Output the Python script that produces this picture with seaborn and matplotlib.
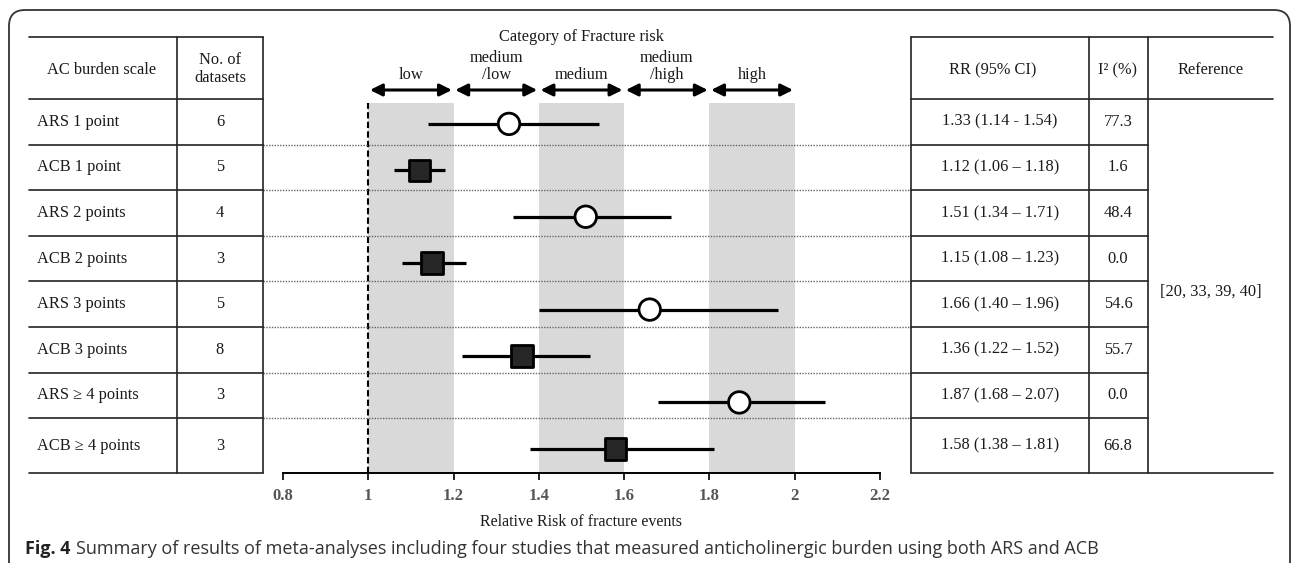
import numpy as np
import pandas as pd
import matplotlib
matplotlib.use('Agg')
import matplotlib.pyplot as plt
import matplotlib.transforms as mtransforms
from matplotlib.patches import FancyBboxPatch
import seaborn as sns

# ---------------- data ----------------
scale_labels = ['ARS 1 point', 'ACB 1 point', 'ARS 2 points', 'ACB 2 points',
                'ARS 3 points', 'ACB 3 points', 'ARS \u2265 4 points', 'ACB \u2265 4 points']
scale_type = ['ARS', 'ACB', 'ARS', 'ACB', 'ARS', 'ACB', 'ARS', 'ACB']
n_datasets = [6, 5, 4, 3, 5, 8, 3, 3]
rr = [1.33, 1.12, 1.51, 1.15, 1.66, 1.36, 1.87, 1.58]
ci_low = [1.14, 1.06, 1.34, 1.08, 1.40, 1.22, 1.68, 1.38]
ci_high = [1.54, 1.18, 1.71, 1.23, 1.96, 1.52, 2.07, 1.81]
i2 = [77.3, 1.6, 48.4, 0.0, 54.6, 55.7, 0.0, 66.8]
ci_dash = ['-', '\u2013', '\u2013', '\u2013', '\u2013', '\u2013', '\u2013', '\u2013']
reference = '[20, 33, 39, 40]'

risk_cats = ['low', 'medium\n/low', 'medium', 'medium\n/high', 'high']
risk_edges = [1.0, 1.2, 1.4, 1.6, 1.8, 2.0]
shaded = [(1.0, 1.2), (1.4, 1.6), (1.8, 2.0)]
xticks = [0.8, 1.0, 1.2, 1.4, 1.6, 1.8, 2.0, 2.2]
xticklabels = ['0.8', '1', '1.2', '1.4', '1.6', '1.8', '2', '2.2']

df = pd.DataFrame({'label': scale_labels, 'scale': scale_type, 'rr': rr,
                   'lo': ci_low, 'hi': ci_high, 'row': np.arange(len(rr))})

# ---------------- style ----------------
sns.set_theme(style='white')
plt.rcParams['font.family'] = ['Liberation Serif', 'DejaVu Serif']
TXT = '#1a1a1a'
LINE = '#222222'

W, H = 1292, 563
fig = plt.figure(figsize=(W / 100, H / 100), dpi=100)

# forest plot axes (pixel box: x 283..880, y 103..473)
ax = fig.add_axes([283 / W, (H - 473) / H, (880 - 283) / W, 370 / H])
ax.patch.set_alpha(0)

# overlay axes in pixel coordinates for table and frame
ov = fig.add_axes([0, 0, 1, 1], zorder=5)
ov.set_xlim(0, W)
ov.set_ylim(H, 0)
ov.axis('off')
ov.patch.set_alpha(0)

# ---------------- forest plot ----------------
for lo, hi in shaded:
    ax.axvspan(lo, hi, color='#d9d9d9', lw=0, zorder=0)
ax.axvline(1.0, color='black', lw=1.5, ls=(0, (3, 1.6)), zorder=1)

ax.hlines(df['row'], df['lo'], df['hi'], color='black', lw=2.3, zorder=2)
sns.scatterplot(data=df, x='rr', y='row', hue='scale', style='scale',
                palette={'ARS': 'white', 'ACB': '#262626'},
                markers={'ARS': 'o', 'ACB': 's'},
                s=240, edgecolor='black', linewidth=2,
                legend=False, zorder=3, ax=ax)

ax.set_xlim(0.8, 2.2)
ax.set_ylim(7.52, -0.45)
ax.set_xticks(xticks)
ax.set_xticklabels(xticklabels, fontweight='bold', color='#555555', fontsize=12)
ax.set_yticks([])
ax.set_xlabel('Relative Risk of fracture events', fontsize=11.5, color=TXT, labelpad=7)
ax.set_ylabel('')
for s in ['top', 'left', 'right']:
    ax.spines[s].set_visible(False)
ax.spines['bottom'].set_color('black')
ax.spines['bottom'].set_linewidth(1.4)
ax.tick_params(axis='x', bottom=True, direction='out', length=5, width=1.2,
               color='black', pad=6)

fs = 11.8

# category arrows above the plot
blend = mtransforms.blended_transform_factory(ax.transData, ov.transData)
for k, cat in enumerate(risk_cats):
    lo, hi = risk_edges[k], risk_edges[k + 1]
    ax.annotate('', xy=(hi, 90), xytext=(lo, 90), xycoords=blend, textcoords=blend,
                arrowprops=dict(arrowstyle='<|-|>,head_length=0.6,head_width=0.3',
                                lw=2.2, color='black', mutation_scale=12,
                                shrinkA=1.2, shrinkB=1.2),
                annotation_clip=False)
    ax.text((lo + hi) / 2, 83, cat, transform=blend, ha='center', va='bottom',
            fontsize=fs, color=TXT, linespacing=1.05)
ax.text(1.5, 37, 'Category of Fracture risk', transform=blend, ha='center',
        va='center', fontsize=fs, color=TXT)

# ---------------- tables ----------------
head_top, head_bot, row_h, tab_bot = 37, 99, 45.6, 473
row_lines = [head_bot + row_h * (k + 1) for k in range(len(rr) - 1)]
row_bounds = [head_bot] + row_lines + [tab_bot]
row_mid = [(row_bounds[k] + row_bounds[k + 1]) / 2 for k in range(len(rr))]

lkw = dict(color=LINE, lw=1.2)
# left table
for y in [head_top, head_bot] + row_lines + [tab_bot]:
    ov.plot([29, 263], [y, y], **lkw)
for x in [177, 263]:
    ov.plot([x, x], [head_top, tab_bot], **lkw)
# right table
for y in [head_top, head_bot, tab_bot]:
    ov.plot([911, 1273], [y, y], **lkw)
for y in row_lines:
    ov.plot([911, 1148], [y, y], **lkw)
for x in [911, 1089, 1148]:
    ov.plot([x, x], [head_top, tab_bot], **lkw)
# dotted separators across the plot
for y in row_lines:
    ov.plot([263, 911], [y, y], color='#666666', lw=1.0, ls=(0, (1, 1)), zorder=1)

ov.text(102, 70, 'AC burden scale', ha='center', va='center', fontsize=fs, color=TXT)
ov.text(220, 69, 'No. of\ndatasets', ha='center', va='center', fontsize=fs,
        color=TXT, linespacing=1.2)
ov.text(993, 70, 'RR (95% CI)', ha='center', va='center', fontsize=fs, color=TXT)
ov.text(1118, 70, 'I\u00b2 (%)', ha='center', va='center', fontsize=fs, color=TXT)
ov.text(1211, 70, 'Reference', ha='center', va='center', fontsize=fs, color=TXT)

for k in range(len(rr)):
    y = row_mid[k]
    ov.text(37, y, scale_labels[k], ha='left', va='center', fontsize=fs, color=TXT)
    ov.text(220, y, str(n_datasets[k]), ha='center', va='center', fontsize=fs, color=TXT)
    ov.text(1000, y, f'{rr[k]:.2f} ({ci_low[k]:.2f} {ci_dash[k]} {ci_high[k]:.2f})',
            ha='center', va='center', fontsize=fs, color=TXT)
    ov.text(1118, y, f'{i2[k]:.1f}', ha='center', va='center', fontsize=fs, color=TXT)
ov.text(1211, 292, reference, ha='center', va='center', fontsize=fs, color=TXT)

# ---------------- frame and caption ----------------
frame = FancyBboxPatch((9, 10), 1281, 620, boxstyle='round,pad=0,rounding_size=16',
                       fc='none', ec='#333333', lw=1.3)
ov.add_patch(frame)

t1 = ov.text(25, 549, 'Fig. 4', ha='left', va='center', fontsize=13,
             fontweight='bold', color='#222222', family=['Open Sans', 'DejaVu Sans'])
ov.annotate('Summary of results of meta-analyses including four studies that measured '
            'anticholinergic burden using both ARS and ACB',
            xy=(1, 0.5), xycoords=t1, xytext=(4, 0), textcoords='offset points',
            ha='left', va='center', fontsize=13, color='#333333',
            family=['Open Sans', 'DejaVu Sans'])

fig.savefig('out.png', dpi=100)
